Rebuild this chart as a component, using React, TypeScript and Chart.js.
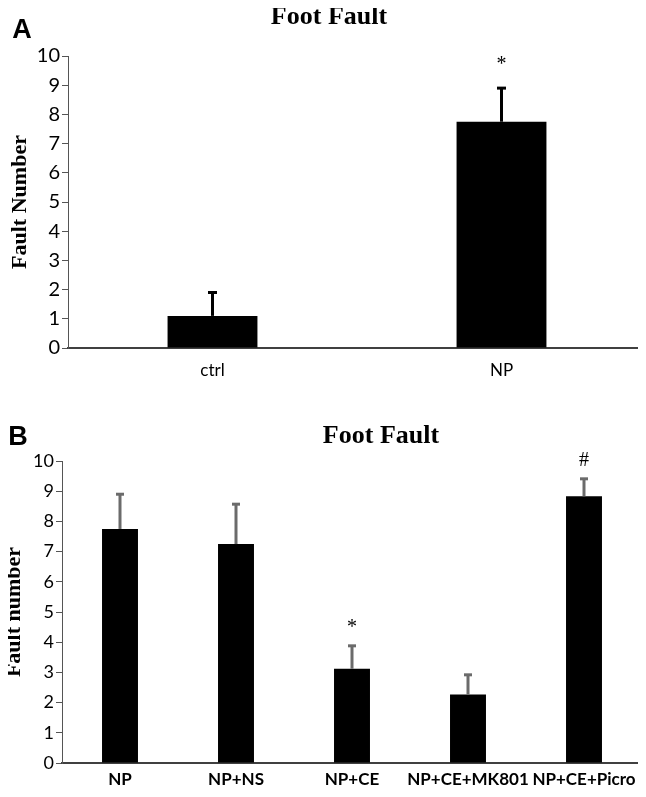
import React, { useEffect, useRef } from 'react';
import { Chart, registerables } from 'chart.js';

Chart.register(...registerables);

// ---------- Panel A data ----------
const categoriesA = ['ctrl', 'NP'];
const valuesA = [1.1, 7.75];
const errorsA = [0.8, 1.15];
const marksA = ['', '*'];

// ---------- Panel B data ----------
const categoriesB = ['NP', 'NP+NS', 'NP+CE', 'NP+CE+MK801', 'NP+CE+Picro'];
const valuesB = [7.75, 7.25, 3.12, 2.27, 8.83];
const errorsB = [1.15, 1.32, 0.76, 0.65, 0.58];
const marksB = ['', '', '*', '', '#'];

const yMin = 0;
const yMax = 10;
const yStep = 1;

type PanelCfg = {
  categories: string[];
  values: number[];
  errors: number[];
  marks: string[];
  canvasHeight: number;
  top: number;
  padTop: number;
  padRight: number;
  yWidth: number;
  xHeight: number;
  yTitle: string;
  yTitlePad: number;
  yTickSize: number;
  xTickFont: { family: string; size: number; weight: string };
  xTickPad: number;
  errColor: string;
  errWidth: number;
  capWidth: number;
  markGap: number;
  title: string;
  titleX: number;
  titleBaseline: number;
  letter: string;
  letterX: number;
  letterBaseline: number;
  barPct: number;
};

function makeAnnotations(cfg: PanelCfg) {
  return {
    id: 'annotations',
    afterDatasetsDraw(chart: any) {
      const ctx = chart.ctx as CanvasRenderingContext2D;
      const meta = chart.getDatasetMeta(0);
      const yScale = chart.scales.y;
      ctx.save();
      meta.data.forEach((bar: any, i: number) => {
        const v = cfg.values[i];
        const e = cfg.errors[i];
        const x = bar.x;
        const yBase = yScale.getPixelForValue(v);
        const yTop = yScale.getPixelForValue(v + e);
        ctx.strokeStyle = cfg.errColor;
        ctx.lineWidth = cfg.errWidth;
        ctx.lineCap = 'butt';
        ctx.beginPath();
        ctx.moveTo(x, yBase);
        ctx.lineTo(x, yTop);
        ctx.stroke();
        ctx.beginPath();
        ctx.moveTo(x - cfg.capWidth / 2, yTop);
        ctx.lineTo(x + cfg.capWidth / 2, yTop);
        ctx.stroke();
        if (cfg.marks[i]) {
          ctx.fillStyle = '#000';
          ctx.font = '20px "Liberation Serif"';
          ctx.textAlign = 'center';
          ctx.textBaseline = 'middle';
          ctx.fillText(cfg.marks[i], x, yTop - cfg.markGap);
        }
      });
      ctx.fillStyle = '#000';
      ctx.textAlign = 'center';
      ctx.textBaseline = 'alphabetic';
      ctx.font = 'bold 26px "Liberation Serif"';
      ctx.fillText(cfg.title, cfg.titleX, cfg.titleBaseline);
      ctx.font = 'bold 27px "Liberation Sans"';
      ctx.fillText(cfg.letter, cfg.letterX, cfg.letterBaseline);
      ctx.restore();
    },
  };
}

function Panel({ cfg }: { cfg: PanelCfg }) {
  const ref = useRef<HTMLCanvasElement>(null);
  useEffect(() => {
    const chart = new Chart(ref.current as HTMLCanvasElement, {
      type: 'bar',
      data: {
        labels: cfg.categories,
        datasets: [
          {
            data: cfg.values,
            backgroundColor: '#000',
            borderWidth: 0,
            barPercentage: cfg.barPct,
            categoryPercentage: 1,
          },
        ],
      },
      options: {
        responsive: false,
        animation: false,
        devicePixelRatio: 1,
        events: [],
        layout: { padding: { top: cfg.padTop, right: cfg.padRight, left: 0, bottom: 0 } },
        plugins: {
          legend: { display: false },
          tooltip: { enabled: false },
          title: { display: false },
        },
        scales: {
          x: {
            ticks: {
              color: '#000',
              font: cfg.xTickFont as any,
              padding: cfg.xTickPad,
              maxRotation: 0,
              autoSkip: false,
            },
            grid: { display: true, drawOnChartArea: false, drawTicks: false },
            border: { display: true, color: '#404040', width: 2 },
            afterFit: (s: any) => {
              s.height = cfg.xHeight;
              s.paddingLeft = 0;
              s.paddingRight = 0;
            },
          },
          y: {
            min: yMin,
            max: yMax,
            ticks: {
              stepSize: yStep,
              color: '#000',
              font: { family: 'Lato', size: cfg.yTickSize },
              padding: 2,
            },
            grid: {
              display: true,
              drawOnChartArea: false,
              drawTicks: true,
              tickLength: 6,
              color: '#555',
              lineWidth: 1,
            },
            border: { display: true, color: '#555', width: 1 },
            title: {
              display: true,
              text: cfg.yTitle,
              color: '#000',
              font: { family: 'Liberation Serif', size: 22, weight: 'bold' },
              padding: { top: cfg.yTitlePad, bottom: 0 },
            },
            afterFit: (s: any) => {
              s.width = cfg.yWidth;
              s.paddingTop = 0;
              s.paddingBottom = 0;
            },
          },
        },
      },
      plugins: [makeAnnotations(cfg)],
    });
    return () => chart.destroy();
  }, []);
  return (
    <canvas
      ref={ref}
      width={646}
      height={cfg.canvasHeight}
      style={{ position: 'absolute', left: 0, top: cfg.top, width: 646, height: cfg.canvasHeight }}
    />
  );
}

const panelA: PanelCfg = {
  categories: categoriesA,
  values: valuesA,
  errors: errorsA,
  marks: marksA,
  canvasHeight: 400,
  top: 0,
  padTop: 56,
  padRight: 0,
  yWidth: 68,
  xHeight: 52,
  yTitle: 'Fault Number',
  yTitlePad: 7,
  yTickSize: 20,
  xTickFont: { family: 'Lato', size: 17, weight: 'normal' },
  xTickPad: 12,
  errColor: '#000',
  errWidth: 3,
  capWidth: 9,
  markGap: 23,
  title: 'Foot Fault',
  titleX: 329,
  titleBaseline: 24,
  letter: 'A',
  letterX: 22,
  letterBaseline: 38,
  barPct: 0.311,
};

const panelB: PanelCfg = {
  categories: categoriesB,
  values: valuesB,
  errors: errorsB,
  marks: marksB,
  canvasHeight: 397,
  top: 400,
  padTop: 61,
  padRight: 4,
  yWidth: 62,
  xHeight: 34,
  yTitle: 'Fault number',
  yTitlePad: 1,
  yTickSize: 18,
  xTickFont: { family: 'Lato', size: 17, weight: 'bold' },
  xTickPad: 6,
  errColor: '#6b6b6b',
  errWidth: 3,
  capWidth: 8,
  markGap: 18,
  title: 'Foot Fault',
  titleX: 381,
  titleBaseline: 43,
  letter: 'B',
  letterX: 18,
  letterBaseline: 45,
  barPct: 0.31,
};

export default function App() {
  return (
    <div style={{ position: 'relative', width: 646, height: 797, margin: -8, background: '#fff' }}>
      <Panel cfg={panelA} />
      <Panel cfg={panelB} />
    </div>
  );
}
